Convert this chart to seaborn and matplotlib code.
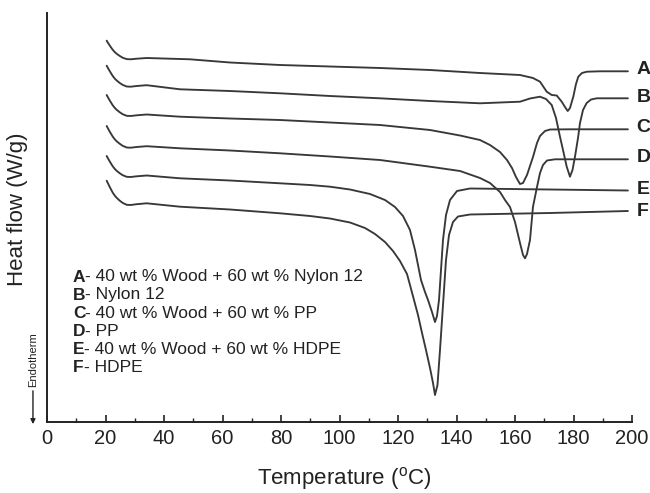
import numpy as np
import pandas as pd
import matplotlib
matplotlib.use("Agg")
import matplotlib.pyplot as plt
from matplotlib.ticker import MultipleLocator
import seaborn as sns

# ---- data (temperature in deg C, heat flow in arbitrary offset units) ----
T_A = [20.4, 21.08, 21.77, 22.45, 23.14, 23.82, 24.84, 25.87, 27.24, 28.6, 30.66, 34.08,
       48.89, 62.56, 79.66, 96.75, 113.85, 130.94, 148.03,
       161.71, 166.15, 168.55, 170.84, 172.55, 174.26, 175.97, 177.09, 178.02, 178.8, 179.93,
       180.85, 181.64, 182.9, 184.6, 189.06, 198.6]
H_A = [3.813, 3.781, 3.751, 3.723, 3.700, 3.682, 3.661, 3.643, 3.629, 3.627, 3.633, 3.640,
       3.627, 3.595, 3.57, 3.555, 3.54, 3.52, 3.49,
       3.47, 3.44, 3.403, 3.303, 3.27, 3.265, 3.203, 3.15, 3.11, 3.14, 3.253,
       3.38, 3.453, 3.49, 3.503, 3.507, 3.507]

T_B = [20.4, 21.08, 21.77, 22.45, 23.14, 23.82, 24.84, 25.87, 27.24, 28.6, 30.66, 34.08,
       45.47, 62.56, 79.66, 96.75, 113.85, 130.94, 148.03,
       161.71, 165.13, 168.55, 170.6, 172.55, 174.02, 175.38, 176.41, 177.68, 178.8, 179.66,
       180.51, 181.54, 182.22, 183.25, 184.51, 186.0, 187.93, 198.6]
H_B = [3.563, 3.527, 3.493, 3.461, 3.435, 3.415, 3.391, 3.371, 3.355, 3.353, 3.360, 3.368,
       3.327, 3.31, 3.287, 3.26, 3.237, 3.21, 3.187,
       3.203, 3.235, 3.253, 3.23, 3.17, 3.04, 2.853, 2.72, 2.553, 2.453, 2.52,
       2.653, 2.84, 2.99, 3.12, 3.19, 3.225, 3.237, 3.237]

T_C = [20.4, 21.08, 21.77, 22.45, 23.14, 23.82, 24.84, 25.87, 27.24, 28.6, 30.66, 34.08,
       45.47, 62.56, 79.66, 96.75, 113.85, 130.94, 141.2,
       148.03, 151.45, 154.87, 157.26, 158.97, 160.34, 161.71, 162.74, 164.1, 165.13, 166.15,
       167.52, 168.55, 170.26, 171.97, 178.8, 198.6]
H_C = [3.270, 3.234, 3.200, 3.168, 3.142, 3.122, 3.098, 3.078, 3.062, 3.060, 3.067, 3.075,
       3.053, 3.035, 3.02, 2.995, 2.97, 2.92, 2.865,
       2.82, 2.77, 2.70, 2.62, 2.54, 2.45, 2.38, 2.39, 2.47, 2.56, 2.65,
       2.79, 2.86, 2.91, 2.925, 2.927, 2.927]

T_D = [20.4, 21.08, 21.77, 22.45, 23.14, 23.82, 24.84, 25.87, 27.24, 28.6, 30.66, 34.08,
       45.47, 62.56, 79.66, 96.75, 113.85, 130.94,
       141.2, 148.03, 151.45, 154.87, 156.58, 158.29, 160.0, 161.71, 162.74, 163.42, 164.1,
       165.13, 166.15, 167.52, 168.55, 169.57, 170.94, 173.68, 198.6]
H_D = [2.960, 2.923, 2.888, 2.855, 2.828, 2.807, 2.783, 2.762, 2.745, 2.743, 2.750, 2.758,
       2.737, 2.715, 2.687, 2.655, 2.62, 2.553,
       2.51, 2.44, 2.39, 2.30, 2.22, 2.15, 2.00, 1.79, 1.67, 1.637, 1.68,
       1.82, 2.153, 2.35, 2.49, 2.57, 2.615, 2.627, 2.627]

T_E = [20.4, 21.08, 21.77, 22.45, 23.14, 23.82, 24.84, 25.87, 27.24, 28.6, 30.66, 34.08,
       45.47, 62.56, 79.66, 89.91, 96.75, 103.59, 110.43, 115.56, 118.97, 121.71, 124.1,
       125.81, 126.84, 127.86, 129.23, 130.26, 131.62, 132.65, 133.33,
       134.02, 134.7, 135.38, 136.41, 137.78, 140.17, 144.62, 171.97, 198.6]
H_E = [2.660, 2.624, 2.590, 2.558, 2.532, 2.512, 2.488, 2.468, 2.452, 2.450, 2.457, 2.465,
       2.437, 2.415, 2.387, 2.37, 2.353, 2.325, 2.28, 2.22, 2.15, 2.06, 1.92,
       1.72, 1.57, 1.42, 1.30, 1.22, 1.10, 1.00, 1.06,
       1.22, 1.52, 1.82, 2.07, 2.22, 2.31, 2.335, 2.325, 2.315]

T_F = [20.4, 21.08, 21.77, 22.45, 23.14, 23.82, 24.84, 25.87, 27.24, 28.6, 30.66, 34.08,
       45.47, 62.56, 79.66, 89.91, 96.75, 103.59, 108.72, 112.14, 115.56, 118.29, 120.68, 123.08,
       124.1, 125.47, 126.84, 128.21, 129.57, 130.94,
       131.97, 132.65, 133.5, 134.36, 135.04, 135.73, 136.41, 137.44, 138.8, 140.51, 144.62,
       171.97, 198.6]
H_F = [2.413, 2.372, 2.332, 2.295, 2.265, 2.242, 2.214, 2.191, 2.172, 2.170, 2.178, 2.187,
       2.153, 2.125, 2.087, 2.06, 2.035, 1.995, 1.94, 1.88, 1.80, 1.71, 1.61, 1.48,
       1.37, 1.22, 1.07, 0.89, 0.72, 0.54,
       0.39, 0.27, 0.37, 0.72, 1.02, 1.32, 1.62, 1.87, 2.00, 2.055, 2.075,
       2.09, 2.11]

curve_ids = ["A", "B", "C", "D", "E", "F"]
curve_end_levels = [3.52, 3.25, 2.94, 2.64, 2.32, 2.11]   # label heights at right edge
legend_letters = ["A", "B", "C", "D", "E", "F"]
legend_texts = ["- 40 wt % Wood + 60 wt % Nylon 12",
                "- Nylon 12",
                "- 40 wt % Wood + 60 wt % PP",
                "- PP",
                "- 40 wt % Wood + 60 wt % HDPE",
                "- HDPE"]
x_ticks = list(range(0, 201, 20))

# ---- build long-form table ----
series = {"A": (T_A, H_A), "B": (T_B, H_B), "C": (T_C, H_C),
          "D": (T_D, H_D), "E": (T_E, H_E), "F": (T_F, H_F)}
rows = []
for k, (t, h) in series.items():
    for i, (ti, hi) in enumerate(zip(t, h)):
        rows.append({"curve": k, "order": i, "T": ti, "H": hi})
df = pd.DataFrame(rows)

sns.set_theme(style="white")
plt.rcParams["font.family"] = ["Liberation Sans", "DejaVu Sans"]
plt.rcParams["mathtext.fontset"] = "custom"
plt.rcParams["mathtext.rm"] = "Liberation Sans"
plt.rcParams["mathtext.it"] = "Liberation Sans:italic"
plt.rcParams["mathtext.bf"] = "Liberation Sans:bold"

fig = plt.figure(figsize=(6.5, 4.93), dpi=100)
ax = fig.add_axes([47 / 650, 71 / 493, 585 / 650, 409 / 493])

line_color = "#383838"
sns.lineplot(data=df, x="T", y="H", hue="curve", units="curve", estimator=None, sort=False,
             palette={k: line_color for k in curve_ids}, linewidth=1.35, legend=False, ax=ax,
             solid_joinstyle="round", solid_capstyle="round")

ax.set_xlim(0, 200)
ax.set_ylim(0, 4.09)
ax.set_xticks(x_ticks)
ax.xaxis.set_minor_locator(MultipleLocator(10))
ax.set_yticks([])
ax.tick_params(axis="x", which="major", direction="in", length=5, width=1.2, colors="#222222",
               labelsize=14.5, pad=5, bottom=True)
ax.tick_params(axis="x", which="minor", direction="in", length=3, width=1.0, colors="#222222",
               bottom=True)
for s in ["top", "right"]:
    ax.spines[s].set_visible(False)
for s in ["left", "bottom"]:
    ax.spines[s].set_color("#222222")
    ax.spines[s].set_linewidth(1.4)
ax.set_xlabel("")
ax.set_ylabel("")

# axis titles
ax.text(0.508, -0.137, r"Temperature ($^{\mathrm{o}}$C)", transform=ax.transAxes,
        ha="center", va="center", fontsize=16, color="#222222")
ax.text(-0.051, 0.52, "Heat flow (W/g)", transform=ax.transAxes, rotation=90,
        ha="center", va="center", fontsize=16, color="#222222")

# Endotherm arrow
ax.annotate("", xy=(-0.024, -0.012), xytext=(-0.024, 0.083), xycoords="axes fraction",
            arrowprops=dict(arrowstyle="-|>", color="#222222", lw=1.0, mutation_scale=7),
            annotation_clip=False)
ax.text(-0.024, 0.085, "Endotherm", transform=ax.transAxes, rotation=90,
        ha="center", va="bottom", fontsize=8, color="#222222")

# right-hand curve labels
for k, lvl in zip(curve_ids, curve_end_levels):
    ax.text(201.5, lvl, k, ha="left", va="center", fontsize=14, fontweight="bold",
            color="#222222", clip_on=False)

# in-plot key
for i, (L, txt) in enumerate(zip(legend_letters, legend_texts)):
    y = (1.45 - 0.18 * i) / 4.09
    t = ax.text(0.0444, y, L, transform=ax.transAxes, ha="left", va="center",
                fontsize=12.5, fontweight="bold", color="#222222")
    ax.annotate(txt, xy=(1, 0.5), xycoords=t, ha="left", va="center",
                fontsize=12.5, color="#222222")

fig.savefig("out.png", dpi=100)
